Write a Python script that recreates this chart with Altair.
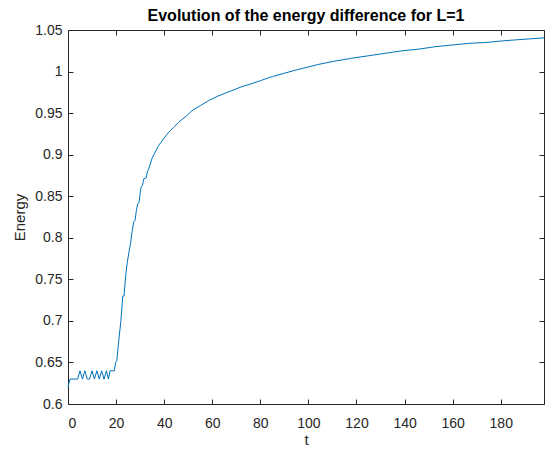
import altair as alt
import pandas as pd

# time values and energy
t_vals = [0, 0.8, 4, 5, 6, 7, 8, 9, 10, 11, 12, 13, 14, 15, 16, 16.8, 17.5, 19.3,
          19.8, 20.3, 21.1, 22.0, 22.8, 23.3, 24.0, 24.6, 25.3, 26.0, 26.7, 27.3, 27.9,
          28.4, 29.0, 29.5, 30.0, 30.4, 31.0, 31.5, 32.5, 33.0, 33.6, 35.0, 37.7, 40,
          41.9, 44, 46, 49, 51.6, 55, 58.5, 62, 65.4, 69, 72.4, 76, 80, 85, 90, 95,
          100, 104, 110, 118, 125, 132, 139, 146, 153, 160, 167, 174, 181, 188, 198]
energy = [0.62, 0.63, 0.63, 0.64, 0.63, 0.64, 0.63, 0.63, 0.64, 0.63, 0.64, 0.63, 0.64,
          0.63, 0.64, 0.63, 0.64, 0.64,
          0.65, 0.652, 0.676, 0.70, 0.73, 0.73, 0.755, 0.769, 0.782, 0.793, 0.808, 0.819,
          0.821, 0.832, 0.841, 0.842, 0.853, 0.861, 0.863, 0.871, 0.872, 0.879, 0.883,
          0.896, 0.911, 0.920, 0.927, 0.933, 0.939, 0.946, 0.953, 0.959, 0.965, 0.970,
          0.974, 0.978, 0.982, 0.985, 0.989, 0.994, 0.998, 1.002, 1.0055, 1.0085, 1.012,
          1.016, 1.019, 1.022, 1.025, 1.027, 1.030, 1.032, 1.034, 1.035, 1.037, 1.0385,
          1.0405]

x_ticks = [0, 20, 40, 60, 80, 100, 120, 140, 160, 180]
y_ticks = [0.6, 0.65, 0.7, 0.75, 0.8, 0.85, 0.9, 0.95, 1.0, 1.05]

df = pd.DataFrame({"t": t_vals, "E": energy})

FONT = "Liberation Sans"
AX = "#262626"

x_scale = alt.Scale(domain=[0, 198], nice=False, zero=False)
y_scale = alt.Scale(domain=[0.6, 1.05], nice=False, zero=False)

common_axis = dict(
    domain=False, tickSize=5, offset=-5, tickColor=AX, labelColor=AX,
    labelFont=FONT, labelFontSize=14, titleFont=FONT, titleFontSize=15,
    titleColor=AX, titleFontWeight="normal", grid=False,
)

main = alt.Chart(df).mark_line(color="#0072BD", strokeWidth=1).encode(
    x=alt.X("t:Q", scale=x_scale,
            axis=alt.Axis(values=x_ticks, title="t", labelPadding=12,
                          titlePadding=2, **common_axis)),
    y=alt.Y("E:Q", scale=y_scale,
            axis=alt.Axis(values=y_ticks, title="Energy", format=".2~f",
                          labelPadding=6, titlePadding=7, **common_axis)),
)

mirror = alt.Chart(df).mark_line(opacity=0).encode(
    x=alt.X("t:Q", scale=x_scale,
            axis=alt.Axis(values=x_ticks, orient="top", labels=False, title=None,
                          domain=False, tickSize=5, offset=-5, tickColor=AX, grid=False)),
    y=alt.Y("E:Q", scale=y_scale,
            axis=alt.Axis(values=y_ticks, orient="right", labels=False, title=None,
                          domain=False, tickSize=5, offset=-5, tickColor=AX, grid=False)),
)

chart = alt.layer(main, mirror).resolve_axis(
    x="independent", y="independent"
).properties(
    width=476,
    height=374,
    title=alt.TitleParams(
        "Evolution of the energy difference for L=1",
        font=FONT, fontSize=16, fontWeight="bold", color="#000000",
        anchor="middle", offset=6, dy=7,
    ),
    autosize=alt.AutoSizeParams(type="none"),
    padding={"left": 68, "top": 30, "right": 2, "bottom": 48},
    background="white",
).configure_view(
    stroke=AX, strokeWidth=1
)

chart.save("out.html", embed_options={"renderer": "svg", "actions": False})
